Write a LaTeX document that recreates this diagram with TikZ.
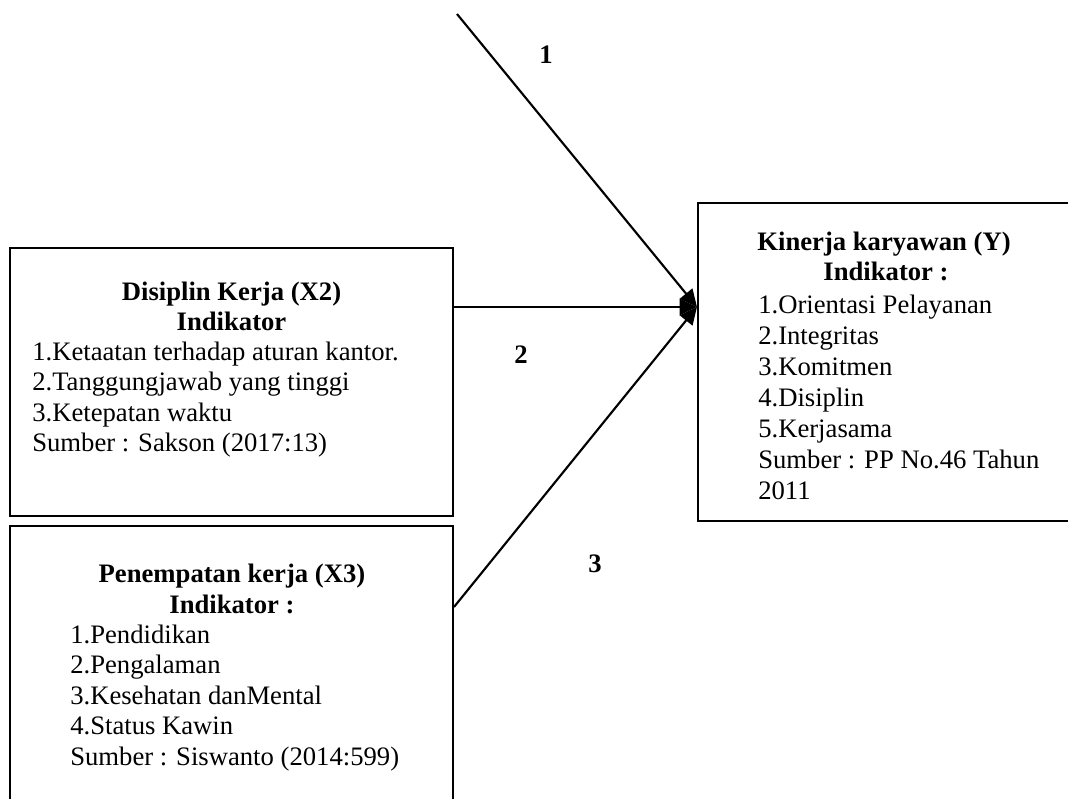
\documentclass[tikz,border=0pt]{standalone}
\usepackage{fontspec}
\setmainfont{Liberation Serif}
\usetikzlibrary{arrows.meta,fit}
\begin{document}
\begin{tikzpicture}[x=0.75pt,y=-0.75pt,font=\fontsize{20pt}{23pt}\selectfont]
\useasboundingbox (0,0) rectangle (1068,799);
\clip (0,0) rectangle (1068,799);
\tikzset{
  box/.style={draw, line width=1.5pt, inner sep=0pt},
  ttl/.style={anchor=base, inner sep=0pt, font=\fontsize{20pt}{23pt}\selectfont\bfseries},
  itm/.style={anchor=base west, inner sep=0pt},
  num/.style={anchor=base, inner sep=0pt, font=\fontsize{20pt}{23pt}\selectfont\bfseries},
  conn/.style={line width=1.6pt, -{Triangle[length=13pt,width=12pt]}}
}
% boxes
\node[box, fit={(10,248)(453,516)}] (X2) {};
\node[box, fit={(10,526)(453,840)}] (X3) {};
\node[box, fit={(698,203)(1090,521)}] (Y) {};
% X2 text
\node[ttl] (x2t) at (231.5,300) {Disiplin Kerja (X2)};
\node[ttl] (x2i) at (231.5,330) {Indikator};
\node[itm] (x2a) at (32,360) {1.Ketaatan terhadap aturan kantor.};
\node[itm] (x2b) at (32,390.5) {2.Tanggungjawab yang tinggi};
\node[itm] (x2c) at (32,421) {3.Ketepatan waktu};
\node[itm] (x2d) at (32,451.5) {Sumber : Sakson (2017:13)};
% X3 text
\node[ttl] (x3t) at (232,582) {Penempatan kerja (X3)};
\node[ttl] (x3i) at (232,613) {Indikator :};
\node[itm] (x3a) at (70,643) {1.Pendidikan};
\node[itm] (x3b) at (70,673.5) {2.Pengalaman};
\node[itm] (x3c) at (70,704) {3.Kesehatan danMental};
\node[itm] (x3d) at (70,734.5) {4.Status Kawin};
\node[itm] (x3e) at (70,765) {Sumber : Siswanto (2014:599)};
% Y text
\node[ttl] (yt) at (884,250) {Kinerja karyawan (Y)};
\node[ttl] (yi) at (886,280) {Indikator :};
\node[itm] (ya) at (758,313) {1.Orientasi Pelayanan};
\node[itm] (yb) at (758,344) {2.Integritas};
\node[itm] (yc) at (758,375) {3.Komitmen};
\node[itm] (yd) at (758,406) {4.Disiplin};
\node[itm] (ye) at (758,437) {5.Kerjasama};
\node[itm] (yf) at (758,468) {Sumber : PP No.46 Tahun};
\node[itm] (yg) at (758,499) {2011};
% connectors
\coordinate (tip) at (Y.west |- 0,307);
\coordinate (s1) at (457,14);
\draw[conn] (s1) -- (tip);
\draw[conn] (X2.east |- tip) -- (tip);
\draw[conn] (X3.east |- 0,607) -- (tip);
% labels
\node[num] (n1) at (546,64) {1};
\node[num] (n2) at (521,363) {2};
\node[num] (n3) at (595,572) {3};
\end{tikzpicture}
\end{document}
